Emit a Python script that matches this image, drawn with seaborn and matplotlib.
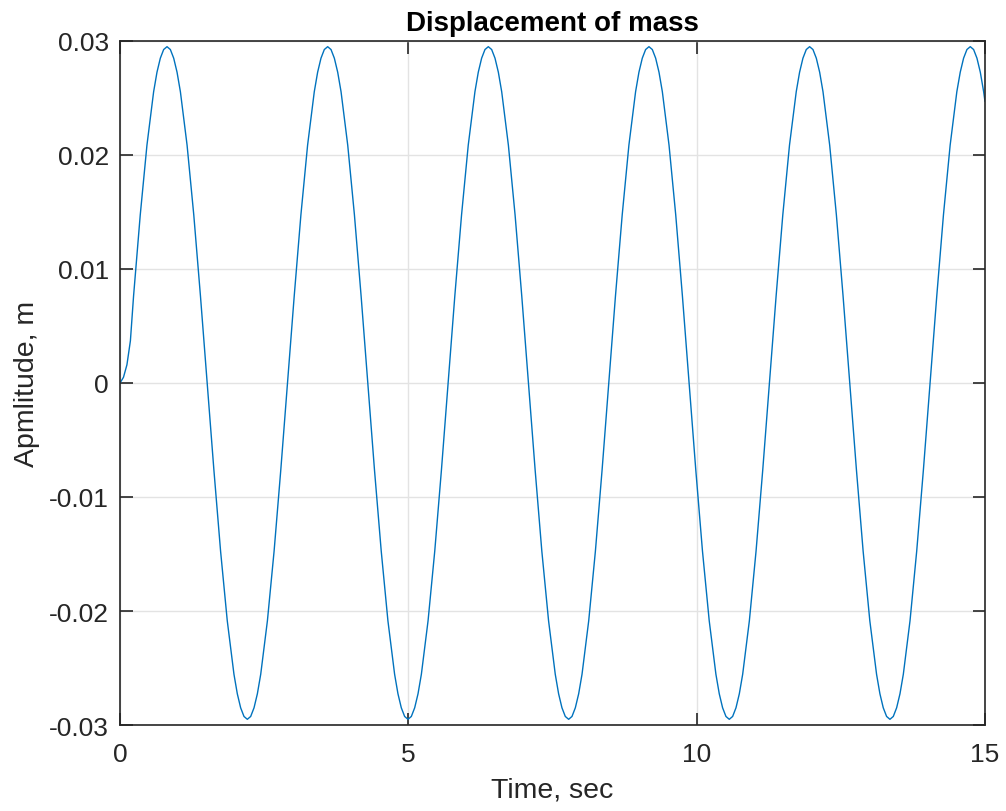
import numpy as np
import pandas as pd
import matplotlib
matplotlib.use('Agg')
import matplotlib.pyplot as plt
import seaborn as sns

# time samples (s)
time = [0.0, 0.06, 0.12, 0.18,
        0.235, 0.351, 0.467, 0.583, 0.699, 0.815, 0.931, 1.047, 1.163, 1.279, 1.395, 1.512,
        1.628, 1.744, 1.860, 1.976, 2.092, 2.208, 2.324, 2.440, 2.556, 2.672, 2.788, 2.904,
        3.021, 3.137, 3.253, 3.369, 3.485, 3.601, 3.717, 3.833, 3.949, 4.065, 4.181, 4.297,
        4.413, 4.530, 4.646, 4.762, 4.878, 4.994, 5.110, 5.226, 5.342, 5.458, 5.574, 5.690,
        5.806, 5.923, 6.039, 6.155, 6.271, 6.387, 6.503, 6.619, 6.735, 6.851, 6.967, 7.083,
        7.199, 7.315, 7.432, 7.548, 7.664, 7.780, 7.896, 8.012, 8.128, 8.244, 8.360, 8.476,
        8.592, 8.709, 8.825, 8.941, 9.057, 9.173, 9.289, 9.405, 9.521, 9.637, 9.753, 9.869,
        9.985, 10.101, 10.218, 10.334, 10.450, 10.566, 10.682, 10.798, 10.914, 11.030, 11.146, 11.262,
        11.378, 11.494, 11.610, 11.727, 11.843, 11.959, 12.075, 12.191, 12.307, 12.423, 12.539, 12.655,
        12.771, 12.887, 13.003, 13.120, 13.236, 13.352, 13.468, 13.584, 13.700, 13.816, 13.932, 14.048,
        14.164, 14.280, 14.396, 14.512, 14.629, 14.745, 14.861, 14.977, 15.0]

# displacement of the mass (m)
displacement = [0.0, 0.0005, 0.0016, 0.0037,
    0.00763, 0.01475, 0.02086, 0.02555, 0.02849, 0.02950, 0.02849, 0.02555, 0.02086, 0.01475, 0.00763, 0.0,
    -0.00763, -0.01475, -0.02086, -0.02555, -0.02849, -0.02950, -0.02849, -0.02555, -0.02086, -0.01475, -0.00763, 0.0,
    0.00763, 0.01475, 0.02086, 0.02555, 0.02849, 0.02950, 0.02849, 0.02555, 0.02086, 0.01475, 0.00763, 0.0,
    -0.00763, -0.01475, -0.02086, -0.02555, -0.02849, -0.02950, -0.02849, -0.02555, -0.02086, -0.01475, -0.00763, 0.0,
    0.00763, 0.01475, 0.02086, 0.02555, 0.02849, 0.02950, 0.02849, 0.02555, 0.02086, 0.01475, 0.00763, 0.0,
    -0.00763, -0.01475, -0.02086, -0.02555, -0.02849, -0.02950, -0.02849, -0.02555, -0.02086, -0.01475, -0.00763, 0.0,
    0.00763, 0.01475, 0.02086, 0.02555, 0.02849, 0.02950, 0.02849, 0.02555, 0.02086, 0.01475, 0.00763, 0.0,
    -0.00763, -0.01475, -0.02086, -0.02555, -0.02849, -0.02950, -0.02849, -0.02555, -0.02086, -0.01475, -0.00763, 0.0,
    0.00763, 0.01475, 0.02086, 0.02555, 0.02849, 0.02950, 0.02849, 0.02555, 0.02086, 0.01475, 0.00763, 0.0,
    -0.00763, -0.01475, -0.02086, -0.02555, -0.02849, -0.02950, -0.02849, -0.02555, -0.02086, -0.01475, -0.00763, 0.0,
    0.00763, 0.01475, 0.02086, 0.02555, 0.02849, 0.02950, 0.02849, 0.02555, 0.0247]

# extra samples around each crest and trough, so the turns stay round
peak_time = [0.641, 0.757, 0.873, 0.989, 2.034, 2.150, 2.266, 2.382,
             3.427, 3.543, 3.659, 3.775, 4.820, 4.936, 5.052, 5.168,
             6.213, 6.329, 6.445, 6.561, 7.606, 7.722, 7.838, 7.954,
             8.999, 9.115, 9.231, 9.347, 10.392, 10.508, 10.624, 10.740,
             11.785, 11.901, 12.017, 12.133, 13.178, 13.294, 13.410, 13.526,
             14.571, 14.687, 14.803, 14.919]
peak_displacement = [0.02726, 0.02925, 0.02925, 0.02726, -0.02726, -0.02925, -0.02925, -0.02726,
                     0.02726, 0.02925, 0.02925, 0.02726, -0.02726, -0.02925, -0.02925, -0.02726,
                     0.02726, 0.02925, 0.02925, 0.02726, -0.02726, -0.02925, -0.02925, -0.02726,
                     0.02726, 0.02925, 0.02925, 0.02726, -0.02726, -0.02925, -0.02925, -0.02726,
                     0.02726, 0.02925, 0.02925, 0.02726, -0.02726, -0.02925, -0.02925, -0.02726,
                     0.02726, 0.02925, 0.02925, 0.02726]

x_ticks = [0, 5, 10, 15]
y_ticks = [-0.03, -0.02, -0.01, 0, 0.01, 0.02, 0.03]
y_tick_labels = ['-0.03', '-0.02', '-0.01', '0', '0.01', '0.02', '0.03']

sns.set_theme(style='whitegrid')
plt.rcParams['font.family'] = ['Liberation Sans', 'DejaVu Sans']

df = pd.DataFrame({'Time': time + peak_time,
                   'Displacement': displacement + peak_displacement})
df = df.sort_values('Time')

fig = plt.figure(figsize=(10.06, 8.12), dpi=100)
ax = fig.add_axes([0.1193, 0.1059, 0.8598, 0.8424])
sns.lineplot(data=df, x='Time', y='Displacement', color='#0072BD', linewidth=1.0,
             estimator=None, sort=True, ax=ax)

ax.set_xlim(0, 15)
ax.set_ylim(-0.03, 0.03)
ax.set_xticks(x_ticks)
ax.set_xticklabels([str(t) for t in x_ticks])
ax.set_yticks(y_ticks)
ax.set_yticklabels(y_tick_labels)
ax.tick_params(direction='in', length=9, width=1.2, top=True, right=True,
               bottom=True, left=True, labelsize=19, colors='#262626')
ax.tick_params(axis='x', pad=12)
ax.tick_params(axis='y', pad=8)
ax.grid(True, color='#e3e3e3', linewidth=1)
for s in ax.spines.values():
    s.set_color('#262626')
    s.set_linewidth(1.2)

ax.set_title('Displacement of mass', fontsize=20, fontweight='bold', color='black', pad=8)
ax.set_xlabel('Time, sec', fontsize=20.5, color='#262626')
ax.set_ylabel('Apmlitude, m', fontsize=20.5, color='#262626')
ax.xaxis.set_label_coords(0.5, -0.076)
ax.yaxis.set_label_coords(-0.092, 0.5)

fig.savefig('out.png', dpi=100)
